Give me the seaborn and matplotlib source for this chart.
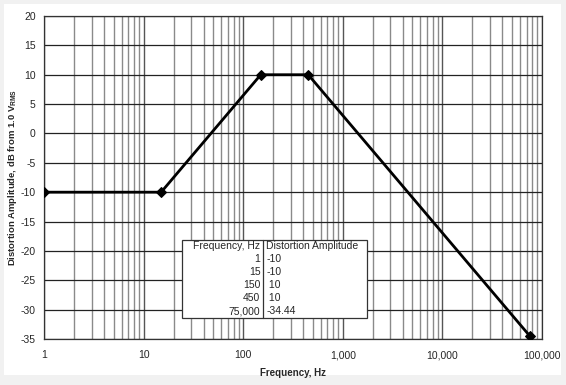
import seaborn as sns
import matplotlib.pyplot as plt
import matplotlib.ticker as mticker
from matplotlib.patches import Rectangle
import pandas as pd

# Distortion profile breakpoints
freq_hz = [1, 15, 150, 450, 75000]
amp_db = [-10, -10, 10, 10, -34.44]
freq_labels = ["1", "15", "150", "450", "75,000"]
amp_labels = ["-10", "-10", " 10", " 10", "-34.44"]
table_header = ["Frequency, Hz", "Distortion Amplitude"]

sns.set_style("white")
plt.rcParams['font.family'] = ['Liberation Sans', 'DejaVu Sans']
plt.rcParams['mathtext.fontset'] = 'custom'
plt.rcParams['mathtext.bf'] = 'Liberation Sans:bold'
plt.rcParams['mathtext.rm'] = 'Liberation Sans'
plt.rcParams['axes.unicode_minus'] = False

df = pd.DataFrame({"freq": freq_hz, "amp": amp_db})

fig = plt.figure(figsize=(5.66, 3.85), dpi=100, facecolor='#f1f1f1')
fig.patches.append(Rectangle((4 / 566, 10 / 385), 557 / 566, 371 / 385,
                             transform=fig.transFigure, facecolor='white',
                             edgecolor='none', zorder=-10))
ax = fig.add_axes([44 / 566, 46 / 385, 498 / 566, 323 / 385])
ax.set_zorder(2)
ax.set_facecolor('white')

sns.lineplot(data=df, x="freq", y="amp", ax=ax, color='black', lw=2,
             marker='D', markersize=5, markeredgecolor='black', zorder=5)

ax.set_xscale('log')
ax.set_xlim(1, 100000)
ax.set_ylim(-35, 20)
ax.yaxis.set_major_locator(mticker.MultipleLocator(5))
ax.xaxis.set_major_locator(mticker.LogLocator(base=10, numticks=10))
ax.xaxis.set_minor_locator(mticker.LogLocator(base=10, subs=range(2, 10), numticks=20))
ax.xaxis.set_major_formatter(mticker.FuncFormatter(lambda v, p: f"{v:,.0f}"))
ax.xaxis.set_minor_formatter(mticker.NullFormatter())

ax.grid(True, which='major', axis='y', color='#222222', lw=0.9)
ax.grid(True, which='major', axis='x', color='#555555', lw=1.0)
ax.grid(True, which='minor', axis='x', color='#8a8a8a', lw=1.0)

for s in ax.spines.values():
    s.set_color('#333333')
    s.set_linewidth(0.9)

ax.tick_params(axis='y', which='major', direction='out', length=4, width=0.9,
               color='#333333', labelsize=7.5, pad=2)
ax.tick_params(axis='x', which='major', direction='out', length=3, width=0.9,
               color='#333333', labelsize=7.5, pad=5)
ax.tick_params(axis='x', which='minor', length=0)

ax.set_xlabel("Frequency, Hz", fontsize=7, fontweight='bold', labelpad=6)
ax.set_ylabel(r"Distortion Amplitude, dB from 1.0 V$_{\mathbf{RMS}}$",
              fontsize=6.8, fontweight='bold')
ax.yaxis.set_label_coords(-0.050, 0.5)

# Breakpoint table
tx0, tx1, ty0, ty1 = 0.277, 0.649, 0.065, 0.307
tdiv = tx0 + 0.44 * (tx1 - tx0)
ax.add_patch(Rectangle((tx0, ty0), tx1 - tx0, ty1 - ty0, transform=ax.transAxes,
                       facecolor='white', edgecolor='#333333', lw=0.9, zorder=6))
ax.plot([tdiv, tdiv], [ty0, ty1], transform=ax.transAxes, color='#333333',
        lw=0.9, zorder=7)
rows = [table_header] + [[f, a] for f, a in zip(freq_labels, amp_labels)]
row_h = (ty1 - ty0) / len(rows)
for i, (f, a) in enumerate(rows):
    yc = ty1 - (i + 0.5) * row_h
    ax.text(tdiv - 0.006, yc, f, transform=ax.transAxes, ha='right', va='center',
            fontsize=7.5, zorder=8)
    ax.text(tdiv + 0.006, yc, a, transform=ax.transAxes, ha='left', va='center',
            fontsize=7.5, zorder=8)

fig.savefig('out.png', dpi=100, facecolor=fig.get_facecolor())
